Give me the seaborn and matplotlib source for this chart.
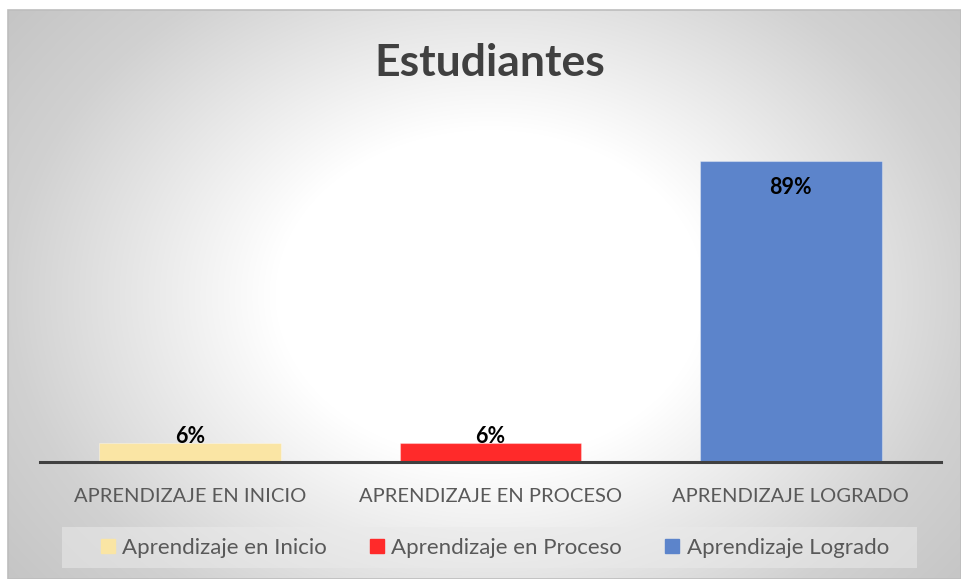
import numpy as np
import pandas as pd
import matplotlib
matplotlib.use("Agg")
import matplotlib.pyplot as plt
import seaborn as sns
from matplotlib.lines import Line2D

categories = ["APRENDIZAJE EN INICIO", "APRENDIZAJE EN PROCESO", "APRENDIZAJE LOGRADO"]
legend_labels = ["Aprendizaje en Inicio", "Aprendizaje en Proceso", "Aprendizaje Logrado"]
values = [0.0556, 0.0556, 0.8889]
value_labels = ["6%", "6%", "89%"]
colors = ["#FAE5A4", "#FF2A2A", "#5C84CB"]

sns.set_theme(style="white")
plt.rcParams["font.family"] = ["Lato", "DejaVu Sans"]

W, H = 961, 579
fig = plt.figure(figsize=(W / 100, H / 100), dpi=100)
fig.patch.set_facecolor("white")

# radial gradient background
bx0, by0 = 8, 10
bg = fig.add_axes([bx0 / W, 0, (W - bx0) / W, (H - by0) / H])
bw, bh = W - bx0, H - by0
yy, xx = np.mgrid[0:bh, 0:bw]
cx, cy = 490 - bx0, 295 - by0
r = np.sqrt((xx - cx) ** 2 + ((yy - cy) * 1.3) ** 2)
v = np.interp(r, [0, 215, 480, 640], [1.0, 1.0, 0.82, 0.76])
img = np.dstack([v, v, v])
bg.imshow(img, aspect="auto", extent=[0, 1, 0, 1], origin="upper")
bg.set_xlim(0, 1)
bg.set_ylim(0, 1)
bg.set_axis_off()
bg.set_zorder(-2)
fig.patches.append(plt.Rectangle((bx0 / W, 0), (W - bx0) / W, (H - by0) / H,
                                 transform=fig.transFigure, facecolor="none",
                                 edgecolor="#BDBDBD", linewidth=1.2, zorder=-1))

ax = fig.add_axes([40 / W, (H - 462) / H, 901 / W, (462 - 123) / H])
ax.set_facecolor("none")
df = pd.DataFrame({"cat": categories, "val": values, "lab": legend_labels})
sns.barplot(data=df, x="cat", y="val", hue="lab", palette=colors, dodge=False,
            width=0.605, ax=ax, legend=False, saturation=1,
            edgecolor="#ffffff55", linewidth=0.8)
ax.set_xlim(-0.5, 2.5)
ax.set_ylim(0, 1)
ax.set_xlabel("")
ax.set_ylabel("")
ax.set_yticks([])
for s in ["top", "right", "left"]:
    ax.spines[s].set_visible(False)
ax.spines["bottom"].set_color("#404040")
ax.spines["bottom"].set_linewidth(2.2)
ax.tick_params(axis="x", length=0, pad=19, labelsize=14.5, colors="#595959")

for i, (val, lab) in enumerate(zip(values, value_labels)):
    if val > 0.5:
        ax.text(i, val - 0.08, lab, ha="center", va="center", fontsize=15.5,
                fontweight="bold", color="black")
    else:
        ax.text(i, val - 0.012, lab, ha="center", va="bottom", fontsize=15.5,
                fontweight="bold", color="black")

fig.text(490 / W, 1 - 63 / H, "Estudiantes", ha="center", va="center",
         fontsize=32, fontweight="bold", color="#404040")

# legend box
fig.patches.append(plt.Rectangle((62 / W, 1 - 568 / H), (917 - 62) / W, 41 / H,
                                 transform=fig.transFigure, facecolor="#EAEAEA",
                                 alpha=0.55, edgecolor="none", zorder=0))
handles = [Line2D([0], [0], marker="s", linestyle="none", markersize=10,
                  markerfacecolor=c, markeredgecolor=c) for c in colors]
leg = fig.legend(handles, legend_labels, loc="center", bbox_to_anchor=(494.5 / W, 1 - 548 / H),
                 ncol=3, frameon=False, fontsize=16, handletextpad=0.3,
                 columnspacing=1.9, handlelength=0.7)
for txt in leg.get_texts():
    txt.set_color("#595959")

fig.savefig("out.png", dpi=100, facecolor=fig.get_facecolor())
